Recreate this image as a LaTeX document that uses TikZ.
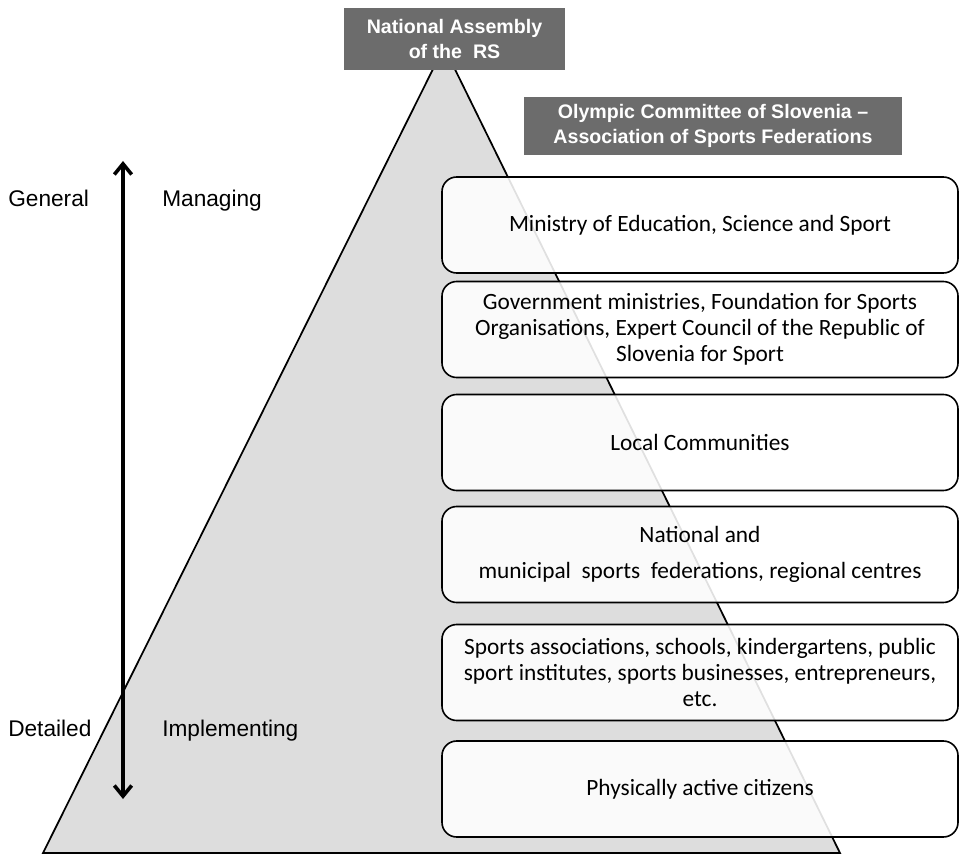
\documentclass[tikz,border=0pt]{standalone}
\usepackage{fontspec}
\setmainfont{Carlito}
\newfontfamily\arialfont{Liberation Sans}
\usepackage{xcolor}
\definecolor{headgray}{RGB}{108,108,108}
\definecolor{pyramidgray}{RGB}{221,221,221}
\usetikzlibrary{arrows.meta}
\tikzset{>={Straight Barb[length=8pt,width=13pt]}}
\tikzset{%
    level box/.style={%
        draw, line width=1.2pt, rounded corners=11pt,
        fill=white, fill opacity=0.88, text opacity=1,
        minimum width=387pt, minimum height=72pt, inner sep=0pt,
        align=center, font=\fontsize{17.5}{19.5}\selectfont
    },
    head box/.style={%
        fill=headgray, text=white, align=center, inner sep=0pt,
        font=\arialfont\bfseries\fontsize{14.7}{18.5}\selectfont
    },
    side label/.style={%
        anchor=base west, inner sep=0pt,
        font=\arialfont\fontsize{17}{20}\selectfont
    }
}

\begin{document}
\begin{tikzpicture}[x=0.75pt,y=-0.75pt]
    \useasboundingbox (0,0) rectangle (959,855);
    % pyramid
    \draw[fill=pyramidgray,line width=1.3pt] (444,47) -- (840,853) -- (43,853) -- cycle;
    \node[head box,minimum width=165.75pt,minimum height=46.5pt] (assembly) at (454.5,39)
        {National Assembly\\of the\ \ RS};
    \node[head box,minimum width=283.5pt,minimum height=43.5pt] (olympic) at (713,126)
        {Olympic Committee of Slovenia \textendash\\Association of Sports Federations};
    % levels
    \node[level box] (ministry) at (700,225) {Ministry of Education, Science and Sport};
    \node[level box] (government) at (700,329.5)
        {Government ministries, Foundation for Sports\\Organisations, Expert Council of the Republic of\\Slovenia for Sport};
    \node[level box] (local) at (700,442.5) {Local Communities};
    \node[level box] (federations) at (700,554.5)
        {National and\\[7pt]municipal\ \ sports\ \ federations, regional centres};
    \node[level box] (associations) at (700,672.5)
        {Sports associations, schools, kindergartens, public\\sport institutes, sports businesses, entrepreneurs,\\etc.};
    \node[level box] (citizens) at (700,789) {Physically active citizens};
    % side scale
    \node[side label] (general) at (8,207) {General};
    \node[side label] (managing) at (162,207) {Managing};
    \node[side label] (detailed) at (8,736) {Detailed};
    \node[side label] (implementing) at (162,736) {Implementing};
    \coordinate (scaletop) at (123,161);
    \coordinate (scalebottom) at (123,799);
    \draw[<->,line width=2.7pt] (scaletop) -- (scalebottom);
\end{tikzpicture}
\end{document}
